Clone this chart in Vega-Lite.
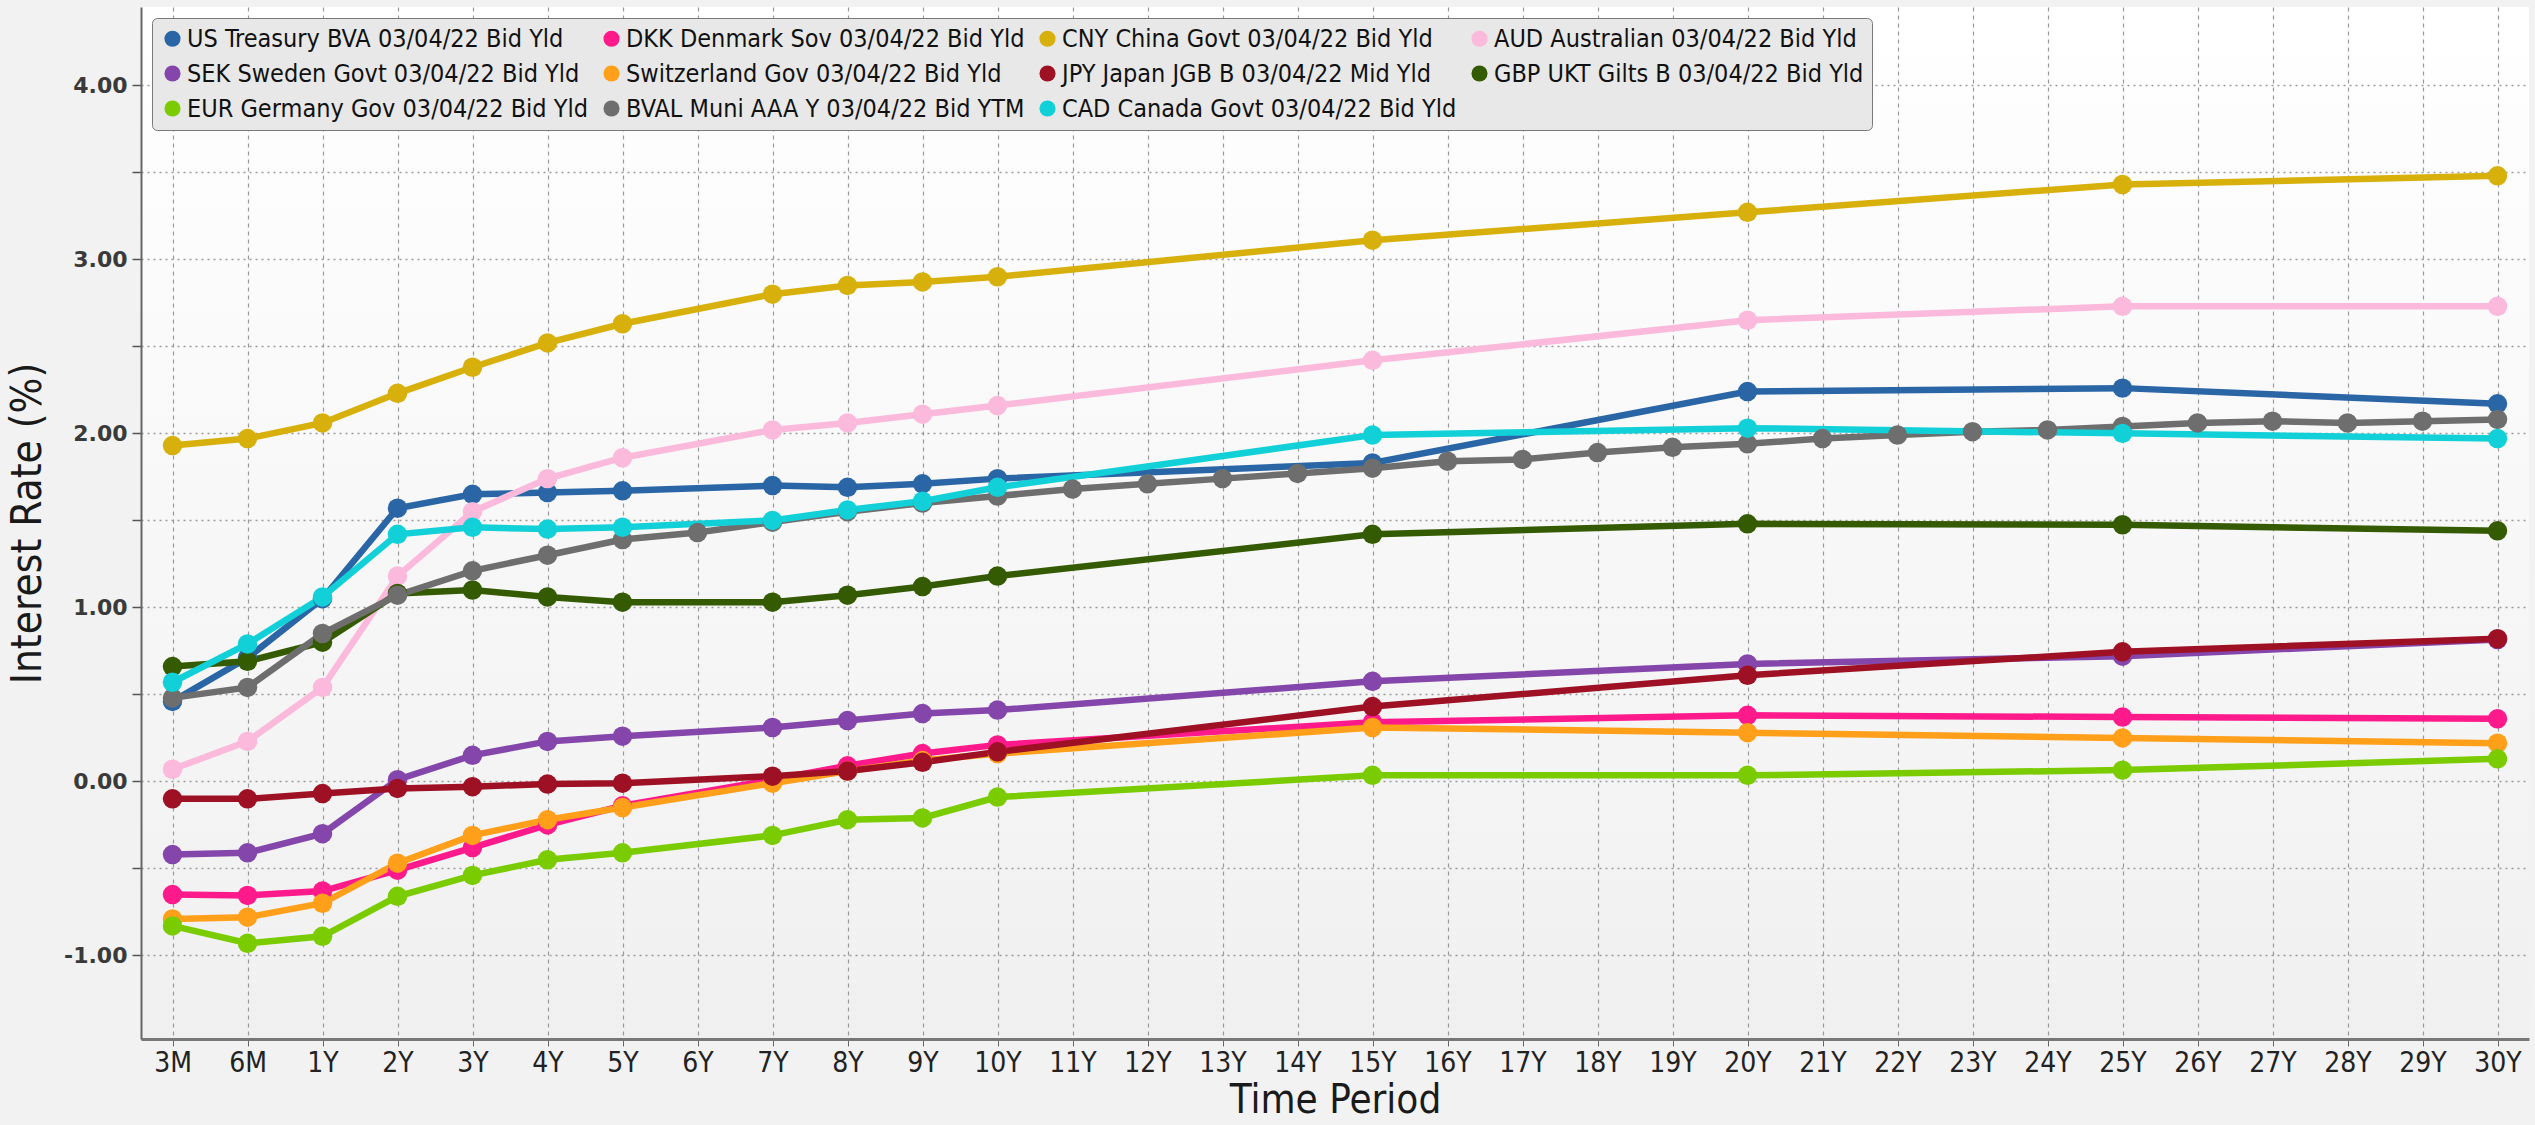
{
  "$schema": "https://vega.github.io/schema/vega-lite/v6.json",
  "width": 2388,
  "height": 1032,
  "autosize": {"type": "none"},
  "padding": {"left": 141, "top": 7, "right": 6, "bottom": 86},
  "background": "#f2f2f2",
  "datasets": {
    "bg": [{"k": 1}],
    "curve": [
      {"t": "3M", "US Treasury BVA 03/04/22 Bid Yld": 0.46, "DKK Denmark Sov 03/04/22 Bid Yld": -0.65, "CNY China Govt  03/04/22 Bid Yld": 1.93, "AUD Australian  03/04/22 Bid Yld": 0.07, "SEK Sweden Govt 03/04/22 Bid Yld": -0.42, "Switzerland Gov 03/04/22 Bid Yld": -0.79, "JPY Japan JGB B 03/04/22 Mid Yld": -0.10, "GBP UKT Gilts B 03/04/22 Bid Yld": 0.66, "EUR Germany Gov 03/04/22 Bid Yld": -0.83, "BVAL Muni AAA Y 03/04/22 Bid YTM": 0.48, "CAD Canada Govt 03/04/22 Bid Yld": 0.57},
      {"t": "6M", "US Treasury BVA 03/04/22 Bid Yld": 0.71, "DKK Denmark Sov 03/04/22 Bid Yld": -0.655, "CNY China Govt  03/04/22 Bid Yld": 1.97, "AUD Australian  03/04/22 Bid Yld": 0.23, "SEK Sweden Govt 03/04/22 Bid Yld": -0.41, "Switzerland Gov 03/04/22 Bid Yld": -0.78, "JPY Japan JGB B 03/04/22 Mid Yld": -0.10, "GBP UKT Gilts B 03/04/22 Bid Yld": 0.69, "EUR Germany Gov 03/04/22 Bid Yld": -0.93, "BVAL Muni AAA Y 03/04/22 Bid YTM": 0.54, "CAD Canada Govt 03/04/22 Bid Yld": 0.79},
      {"t": "1Y", "US Treasury BVA 03/04/22 Bid Yld": 1.05, "DKK Denmark Sov 03/04/22 Bid Yld": -0.63, "CNY China Govt  03/04/22 Bid Yld": 2.06, "AUD Australian  03/04/22 Bid Yld": 0.54, "SEK Sweden Govt 03/04/22 Bid Yld": -0.30, "Switzerland Gov 03/04/22 Bid Yld": -0.70, "JPY Japan JGB B 03/04/22 Mid Yld": -0.07, "GBP UKT Gilts B 03/04/22 Bid Yld": 0.80, "EUR Germany Gov 03/04/22 Bid Yld": -0.89, "BVAL Muni AAA Y 03/04/22 Bid YTM": 0.85, "CAD Canada Govt 03/04/22 Bid Yld": 1.06},
      {"t": "2Y", "US Treasury BVA 03/04/22 Bid Yld": 1.57, "DKK Denmark Sov 03/04/22 Bid Yld": -0.51, "CNY China Govt  03/04/22 Bid Yld": 2.23, "AUD Australian  03/04/22 Bid Yld": 1.18, "SEK Sweden Govt 03/04/22 Bid Yld": 0.01, "Switzerland Gov 03/04/22 Bid Yld": -0.47, "JPY Japan JGB B 03/04/22 Mid Yld": -0.04, "GBP UKT Gilts B 03/04/22 Bid Yld": 1.08, "EUR Germany Gov 03/04/22 Bid Yld": -0.66, "BVAL Muni AAA Y 03/04/22 Bid YTM": 1.07, "CAD Canada Govt 03/04/22 Bid Yld": 1.42},
      {"t": "3Y", "US Treasury BVA 03/04/22 Bid Yld": 1.65, "DKK Denmark Sov 03/04/22 Bid Yld": -0.38, "CNY China Govt  03/04/22 Bid Yld": 2.38, "AUD Australian  03/04/22 Bid Yld": 1.55, "SEK Sweden Govt 03/04/22 Bid Yld": 0.15, "Switzerland Gov 03/04/22 Bid Yld": -0.31, "JPY Japan JGB B 03/04/22 Mid Yld": -0.03, "GBP UKT Gilts B 03/04/22 Bid Yld": 1.10, "EUR Germany Gov 03/04/22 Bid Yld": -0.54, "BVAL Muni AAA Y 03/04/22 Bid YTM": 1.21, "CAD Canada Govt 03/04/22 Bid Yld": 1.46},
      {"t": "4Y", "US Treasury BVA 03/04/22 Bid Yld": 1.66, "DKK Denmark Sov 03/04/22 Bid Yld": -0.25, "CNY China Govt  03/04/22 Bid Yld": 2.52, "AUD Australian  03/04/22 Bid Yld": 1.74, "SEK Sweden Govt 03/04/22 Bid Yld": 0.23, "Switzerland Gov 03/04/22 Bid Yld": -0.22, "JPY Japan JGB B 03/04/22 Mid Yld": -0.015, "GBP UKT Gilts B 03/04/22 Bid Yld": 1.06, "EUR Germany Gov 03/04/22 Bid Yld": -0.45, "BVAL Muni AAA Y 03/04/22 Bid YTM": 1.30, "CAD Canada Govt 03/04/22 Bid Yld": 1.45},
      {"t": "5Y", "US Treasury BVA 03/04/22 Bid Yld": 1.67, "DKK Denmark Sov 03/04/22 Bid Yld": -0.14, "CNY China Govt  03/04/22 Bid Yld": 2.63, "AUD Australian  03/04/22 Bid Yld": 1.86, "SEK Sweden Govt 03/04/22 Bid Yld": 0.26, "Switzerland Gov 03/04/22 Bid Yld": -0.15, "JPY Japan JGB B 03/04/22 Mid Yld": -0.01, "GBP UKT Gilts B 03/04/22 Bid Yld": 1.03, "EUR Germany Gov 03/04/22 Bid Yld": -0.41, "BVAL Muni AAA Y 03/04/22 Bid YTM": 1.39, "CAD Canada Govt 03/04/22 Bid Yld": 1.46},
      {"t": "6Y", "BVAL Muni AAA Y 03/04/22 Bid YTM": 1.43},
      {"t": "7Y", "US Treasury BVA 03/04/22 Bid Yld": 1.70, "DKK Denmark Sov 03/04/22 Bid Yld": 0.01, "CNY China Govt  03/04/22 Bid Yld": 2.80, "AUD Australian  03/04/22 Bid Yld": 2.02, "SEK Sweden Govt 03/04/22 Bid Yld": 0.31, "Switzerland Gov 03/04/22 Bid Yld": -0.01, "JPY Japan JGB B 03/04/22 Mid Yld": 0.03, "GBP UKT Gilts B 03/04/22 Bid Yld": 1.03, "EUR Germany Gov 03/04/22 Bid Yld": -0.31, "BVAL Muni AAA Y 03/04/22 Bid YTM": 1.49, "CAD Canada Govt 03/04/22 Bid Yld": 1.50},
      {"t": "8Y", "US Treasury BVA 03/04/22 Bid Yld": 1.69, "DKK Denmark Sov 03/04/22 Bid Yld": 0.09, "CNY China Govt  03/04/22 Bid Yld": 2.85, "AUD Australian  03/04/22 Bid Yld": 2.06, "SEK Sweden Govt 03/04/22 Bid Yld": 0.35, "Switzerland Gov 03/04/22 Bid Yld": 0.06, "JPY Japan JGB B 03/04/22 Mid Yld": 0.06, "GBP UKT Gilts B 03/04/22 Bid Yld": 1.07, "EUR Germany Gov 03/04/22 Bid Yld": -0.22, "BVAL Muni AAA Y 03/04/22 Bid YTM": 1.55, "CAD Canada Govt 03/04/22 Bid Yld": 1.56},
      {"t": "9Y", "US Treasury BVA 03/04/22 Bid Yld": 1.71, "DKK Denmark Sov 03/04/22 Bid Yld": 0.16, "CNY China Govt  03/04/22 Bid Yld": 2.87, "AUD Australian  03/04/22 Bid Yld": 2.11, "SEK Sweden Govt 03/04/22 Bid Yld": 0.39, "Switzerland Gov 03/04/22 Bid Yld": 0.12, "JPY Japan JGB B 03/04/22 Mid Yld": 0.11, "GBP UKT Gilts B 03/04/22 Bid Yld": 1.12, "EUR Germany Gov 03/04/22 Bid Yld": -0.21, "BVAL Muni AAA Y 03/04/22 Bid YTM": 1.60, "CAD Canada Govt 03/04/22 Bid Yld": 1.61},
      {"t": "10Y", "US Treasury BVA 03/04/22 Bid Yld": 1.74, "DKK Denmark Sov 03/04/22 Bid Yld": 0.21, "CNY China Govt  03/04/22 Bid Yld": 2.90, "AUD Australian  03/04/22 Bid Yld": 2.16, "SEK Sweden Govt 03/04/22 Bid Yld": 0.41, "Switzerland Gov 03/04/22 Bid Yld": 0.16, "JPY Japan JGB B 03/04/22 Mid Yld": 0.17, "GBP UKT Gilts B 03/04/22 Bid Yld": 1.18, "EUR Germany Gov 03/04/22 Bid Yld": -0.09, "BVAL Muni AAA Y 03/04/22 Bid YTM": 1.64, "CAD Canada Govt 03/04/22 Bid Yld": 1.69},
      {"t": "11Y", "BVAL Muni AAA Y 03/04/22 Bid YTM": 1.68},
      {"t": "12Y", "BVAL Muni AAA Y 03/04/22 Bid YTM": 1.71},
      {"t": "13Y", "BVAL Muni AAA Y 03/04/22 Bid YTM": 1.74},
      {"t": "14Y", "BVAL Muni AAA Y 03/04/22 Bid YTM": 1.77},
      {"t": "15Y", "US Treasury BVA 03/04/22 Bid Yld": 1.83, "DKK Denmark Sov 03/04/22 Bid Yld": 0.34, "CNY China Govt  03/04/22 Bid Yld": 3.11, "AUD Australian  03/04/22 Bid Yld": 2.42, "SEK Sweden Govt 03/04/22 Bid Yld": 0.575, "Switzerland Gov 03/04/22 Bid Yld": 0.31, "JPY Japan JGB B 03/04/22 Mid Yld": 0.43, "GBP UKT Gilts B 03/04/22 Bid Yld": 1.42, "EUR Germany Gov 03/04/22 Bid Yld": 0.035, "BVAL Muni AAA Y 03/04/22 Bid YTM": 1.80, "CAD Canada Govt 03/04/22 Bid Yld": 1.99},
      {"t": "16Y", "BVAL Muni AAA Y 03/04/22 Bid YTM": 1.84},
      {"t": "17Y", "BVAL Muni AAA Y 03/04/22 Bid YTM": 1.85},
      {"t": "18Y", "BVAL Muni AAA Y 03/04/22 Bid YTM": 1.89},
      {"t": "19Y", "BVAL Muni AAA Y 03/04/22 Bid YTM": 1.92},
      {"t": "20Y", "US Treasury BVA 03/04/22 Bid Yld": 2.24, "DKK Denmark Sov 03/04/22 Bid Yld": 0.38, "CNY China Govt  03/04/22 Bid Yld": 3.27, "AUD Australian  03/04/22 Bid Yld": 2.65, "SEK Sweden Govt 03/04/22 Bid Yld": 0.675, "Switzerland Gov 03/04/22 Bid Yld": 0.28, "JPY Japan JGB B 03/04/22 Mid Yld": 0.61, "GBP UKT Gilts B 03/04/22 Bid Yld": 1.48, "EUR Germany Gov 03/04/22 Bid Yld": 0.035, "BVAL Muni AAA Y 03/04/22 Bid YTM": 1.94, "CAD Canada Govt 03/04/22 Bid Yld": 2.03},
      {"t": "21Y", "BVAL Muni AAA Y 03/04/22 Bid YTM": 1.97},
      {"t": "22Y", "BVAL Muni AAA Y 03/04/22 Bid YTM": 1.99},
      {"t": "23Y", "BVAL Muni AAA Y 03/04/22 Bid YTM": 2.01},
      {"t": "24Y", "BVAL Muni AAA Y 03/04/22 Bid YTM": 2.02},
      {"t": "25Y", "US Treasury BVA 03/04/22 Bid Yld": 2.26, "DKK Denmark Sov 03/04/22 Bid Yld": 0.37, "CNY China Govt  03/04/22 Bid Yld": 3.43, "AUD Australian  03/04/22 Bid Yld": 2.73, "SEK Sweden Govt 03/04/22 Bid Yld": 0.72, "Switzerland Gov 03/04/22 Bid Yld": 0.25, "JPY Japan JGB B 03/04/22 Mid Yld": 0.745, "GBP UKT Gilts B 03/04/22 Bid Yld": 1.475, "EUR Germany Gov 03/04/22 Bid Yld": 0.065, "BVAL Muni AAA Y 03/04/22 Bid YTM": 2.04, "CAD Canada Govt 03/04/22 Bid Yld": 2.00},
      {"t": "26Y", "BVAL Muni AAA Y 03/04/22 Bid YTM": 2.06},
      {"t": "27Y", "BVAL Muni AAA Y 03/04/22 Bid YTM": 2.07},
      {"t": "28Y", "BVAL Muni AAA Y 03/04/22 Bid YTM": 2.06},
      {"t": "29Y", "BVAL Muni AAA Y 03/04/22 Bid YTM": 2.07},
      {"t": "30Y", "US Treasury BVA 03/04/22 Bid Yld": 2.17, "DKK Denmark Sov 03/04/22 Bid Yld": 0.36, "CNY China Govt  03/04/22 Bid Yld": 3.48, "AUD Australian  03/04/22 Bid Yld": 2.73, "SEK Sweden Govt 03/04/22 Bid Yld": 0.815, "Switzerland Gov 03/04/22 Bid Yld": 0.22, "JPY Japan JGB B 03/04/22 Mid Yld": 0.82, "GBP UKT Gilts B 03/04/22 Bid Yld": 1.44, "EUR Germany Gov 03/04/22 Bid Yld": 0.13, "BVAL Muni AAA Y 03/04/22 Bid YTM": 2.08, "CAD Canada Govt 03/04/22 Bid Yld": 1.97}
    ]
  },
  "config": {
    "view": {"stroke": null, "fill": {"gradient": "linear", "x1": 0, "y1": 0, "x2": 0, "y2": 1, "stops": [{"offset": 0, "color": "#ffffff"}, {"offset": 1, "color": "#f0f0f0"}]}},
    "axis": {"labelFont": "Liberation Sans Narrow, DejaVu Sans Condensed, sans-serif", "titleFont": "Liberation Sans Narrow, DejaVu Sans Condensed, sans-serif", "titleFontWeight": "normal", "titleColor": "#1a1a1a"},
    "legend": {"labelFont": "Liberation Sans Narrow, DejaVu Sans Condensed, sans-serif"}
  },
  "data": {"name": "curve"},
  "transform": [
    {"fold": ["US Treasury BVA 03/04/22 Bid Yld", "DKK Denmark Sov 03/04/22 Bid Yld", "CNY China Govt  03/04/22 Bid Yld", "AUD Australian  03/04/22 Bid Yld", "SEK Sweden Govt 03/04/22 Bid Yld", "Switzerland Gov 03/04/22 Bid Yld", "JPY Japan JGB B 03/04/22 Mid Yld", "GBP UKT Gilts B 03/04/22 Bid Yld", "EUR Germany Gov 03/04/22 Bid Yld", "BVAL Muni AAA Y 03/04/22 Bid YTM", "CAD Canada Govt 03/04/22 Bid Yld"], "as": ["series", "value"]},
    {"filter": "isValid(datum.value)"}
  ],
  "encoding": {
    "x": {"field": "t", "type": "ordinal", "sort": null,
      "scale": {"type": "point", "padding": 0.42, "domain": ["3M", "6M", "1Y", "2Y", "3Y", "4Y", "5Y", "6Y", "7Y", "8Y", "9Y", "10Y", "11Y", "12Y", "13Y", "14Y", "15Y", "16Y", "17Y", "18Y", "19Y", "20Y", "21Y", "22Y", "23Y", "24Y", "25Y", "26Y", "27Y", "28Y", "29Y", "30Y"]},
      "axis": {"labelAngle": 0, "labelFontSize": 28, "labelColor": "#222222", "labelPadding": 3, "tickSize": 7, "tickColor": "#666666", "domainColor": "#777777", "domainWidth": 3, "grid": true, "gridDash": [4, 4], "gridColor": "#9a9a9a", "gridWidth": 1.2, "title": "Time Period", "titleFontSize": 40, "titlePadding": 3}},
    "y": {"field": "value", "type": "quantitative", "scale": {"domain": [-1.48, 4.45], "nice": false, "zero": false},
      "axis": {"values": [-1, -0.5, 0, 0.5, 1, 1.5, 2, 2.5, 3, 3.5, 4], "labelExpr": "datum.value % 1 === 0 ? replace(format(datum.value, '.2f'), '\u2212', '-') : ''", "labelFont": "DejaVu Sans", "labelFontSize": 22, "labelFontWeight": "bold", "labelColor": "#3a3a3a", "labelPadding": 5, "tickSize": 9, "tickColor": "#555555", "tickWidth": 1.5, "domainColor": "#666666", "domainWidth": 2, "grid": true, "gridDash": [2, 4], "gridColor": "#9a9a9a", "gridWidth": 1.5, "title": "Interest Rate (%)", "titleFontSize": 42, "titlePadding": 14}},
    "color": {"field": "series", "type": "nominal",
      "scale": {"domain": ["US Treasury BVA 03/04/22 Bid Yld", "SEK Sweden Govt 03/04/22 Bid Yld", "EUR Germany Gov 03/04/22 Bid Yld", "DKK Denmark Sov 03/04/22 Bid Yld", "Switzerland Gov 03/04/22 Bid Yld", "BVAL Muni AAA Y 03/04/22 Bid YTM", "CNY China Govt  03/04/22 Bid Yld", "JPY Japan JGB B 03/04/22 Mid Yld", "CAD Canada Govt 03/04/22 Bid Yld", "AUD Australian  03/04/22 Bid Yld", "GBP UKT Gilts B 03/04/22 Bid Yld"],
        "range": ["#2a66a6", "#8446aa", "#7acc00", "#ff1a8c", "#ff9f1a", "#6e6e6e", "#d8b00c", "#9e1024", "#12d0d8", "#fbb9db", "#345a02"]},
      "legend": {"orient": "top-left", "offset": 11, "columns": 4, "title": null, "symbolType": "circle", "symbolSize": 260, "symbolStrokeWidth": 0, "symbolOpacity": 1, "labelFontSize": 25, "labelColor": "#111111", "labelLimit": 700, "labelOffset": 2, "fillColor": "#e8e8e8", "strokeColor": "#7a7a7a", "cornerRadius": 5, "padding": 8, "rowPadding": 9, "columnPadding": 10}}
  },
  "layer": [
    {"mark": {"type": "line", "strokeWidth": 6.5}},
    {"data": {"name": "bg"}, "transform": [], "mark": {"type": "rule", "color": "#000000", "strokeWidth": 2.5, "strokeDash": [9, 5]}, "encoding": {"x": null, "color": null, "y": {"datum": 0, "type": "quantitative"}}},
    {"mark": {"type": "point", "filled": true, "size": 380, "opacity": 1}}
  ]
}
